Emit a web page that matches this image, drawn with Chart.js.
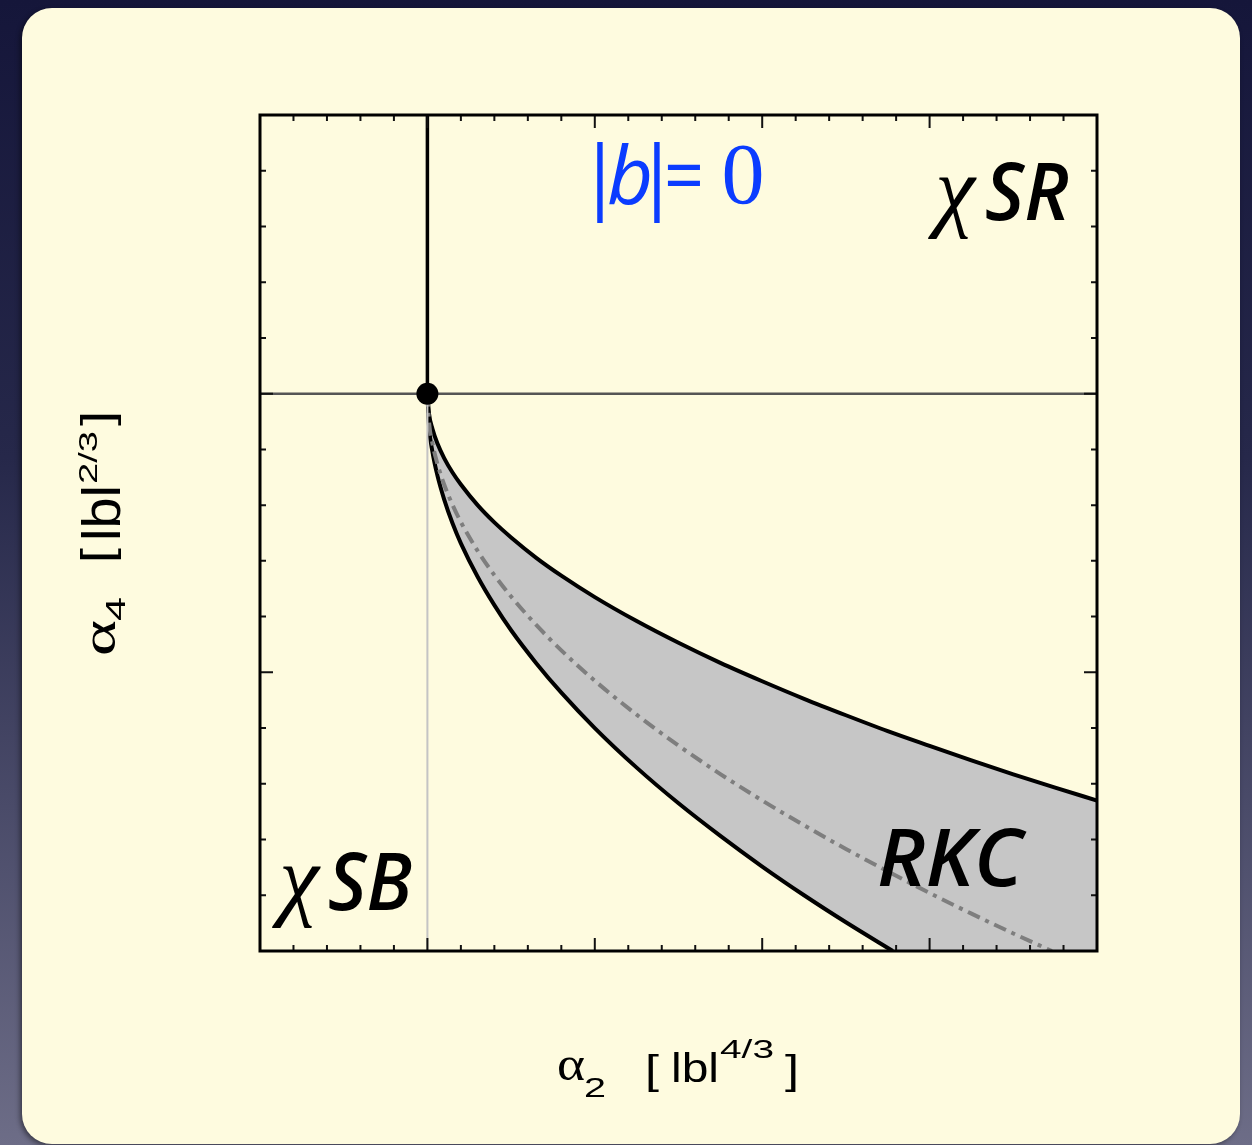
<!DOCTYPE html>
<html>
<head>
<meta charset="utf-8">
<title>Cusp phase diagram |b|=0</title>
<script src="https://cdn.jsdelivr.net/npm/chart.js@4.4.1/dist/chart.umd.min.js"></script>
<style>
    html, body { margin: 0; padding: 0; }
    body {
        width: 1252px; height: 1145px; overflow: hidden; position: relative;
        background: linear-gradient(180deg, #15163a 0%, #26284a 40%, #6d6d87 100%);
    }
    .panel {
        position: absolute; left: 22px; top: 8px; width: 1218px; height: 1136px;
        background: #fefbdf; border-radius: 30px;
        box-shadow: -2px 2px 5px rgba(0, 0, 0, 0.45);
    }
    #phaseChart { position: absolute; left: 0; top: 0; }
</style>
</head>
<body>
<div class="panel"></div>
<canvas id="phaseChart" width="1252" height="1145"></canvas>
<script>
/* ============================================
   Phase diagram: alpha2 vs alpha4 at |b| = 0
   ============================================ */

// axis ranges (units of |b|^{4/3} and |b|^{2/3})
const xRange = [-1, 4];
const yRange = [-2, 1];
const tickStep = 0.2;      // minor tick spacing, every 5th is a major tick

// upper boundary of the RKC band
const upperX = [0, 0.01, 0.03, 0.06, 0.1, 0.15, 0.2, 0.3, 0.4, 0.5, 0.65, 0.8, 1, 1.25, 1.5, 1.75, 2, 2.25, 2.5, 2.75, 3, 3.25, 3.5, 3.75, 4];
const upperY = [0, -0.073, -0.126, -0.179, -0.231, -0.283, -0.326, -0.400, -0.462, -0.516, -0.589, -0.653, -0.730, -0.816, -0.894, -0.966, -1.032, -1.095, -1.154, -1.211, -1.264, -1.316, -1.366, -1.414, -1.460];

// lower boundary, leaves the frame at the bottom edge
const lowerX = [0, 0.01, 0.03, 0.06, 0.1, 0.15, 0.2, 0.3, 0.4, 0.5, 0.65, 0.8, 1, 1.25, 1.5, 1.75, 2, 2.25, 2.5, 2.78];
const lowerY = [0, -0.120, -0.208, -0.294, -0.379, -0.465, -0.537, -0.657, -0.759, -0.849, -0.967, -1.073, -1.200, -1.342, -1.470, -1.587, -1.697, -1.800, -1.897, -2.000];

// dash-dot line inside the band
const midX = [0, 0.01, 0.03, 0.06, 0.1, 0.15, 0.2, 0.3, 0.4, 0.5, 0.65, 0.8, 1, 1.25, 1.5, 1.75, 2, 2.25, 2.5, 2.75, 3, 3.25, 3.5, 3.73];
const midY = [0, -0.103, -0.178, -0.252, -0.326, -0.399, -0.461, -0.564, -0.651, -0.728, -0.830, -0.921, -1.030, -1.152, -1.263, -1.365, -1.460, -1.549, -1.634, -1.714, -1.792, -1.866, -1.937, -2.000];

// reference lines and the critical point
const hLineX = [-1, 4];
const hLineY = [0, 0];
const vUpperX = [0, 0];
const vUpperY = [0, 1];
const vLowerX = [0, 0];
const vLowerY = [-2, 0];
const pointX = [0];
const pointY = [0];

const toXY = (xs, ys) => xs.map((x, i) => ({ x, y: ys[i] }));

const PANEL = '#fefbdf';
const BAND = '#c6c6c6';
const SANS = '"Liberation Sans", Arial, sans-serif';
const SERIF = '"Liberation Serif", "Times New Roman", serif';
const LABEL = '"Open Sans", "Noto Sans", sans-serif';

function glyph(ctx, text, font, cx, baseline, color) {
    ctx.font = font;
    ctx.fillStyle = color || '#000';
    ctx.textAlign = 'center';
    ctx.textBaseline = 'alphabetic';
    ctx.fillText(text, cx, baseline);
}

// draw text squeezed/stretched into a given width
function fitText(ctx, text, font, left, baseline, width, color) {
    ctx.font = font;
    ctx.fillStyle = color || '#000';
    ctx.textAlign = 'left';
    ctx.textBaseline = 'alphabetic';
    const w = ctx.measureText(text).width;
    ctx.save();
    ctx.translate(left, baseline);
    ctx.scale(width / w, 1);
    ctx.fillText(text, 0, 0);
    ctx.restore();
}

const frameTicks = {
    id: 'frameTicks',
    afterDatasetsDraw(chart) {
        const { ctx, chartArea: a, scales: { x, y } } = chart;
        ctx.save();
        ctx.strokeStyle = '#111';
        ctx.lineWidth = 2;
        ctx.beginPath();
        const nx = Math.round((xRange[1] - xRange[0]) / tickStep);
        for (let i = 1; i < nx; i++) {
            const px = x.getPixelForValue(xRange[0] + i * tickStep);
            const len = i % 5 === 0 ? 13 : 6;
            ctx.moveTo(px, a.bottom); ctx.lineTo(px, a.bottom - len);
            ctx.moveTo(px, a.top); ctx.lineTo(px, a.top + len);
        }
        const ny = Math.round((yRange[1] - yRange[0]) / tickStep);
        for (let i = 1; i < ny; i++) {
            const py = y.getPixelForValue(yRange[0] + i * tickStep);
            const len = i % 5 === 0 ? 13 : 6;
            ctx.moveTo(a.left, py); ctx.lineTo(a.left + len, py);
            ctx.moveTo(a.right, py); ctx.lineTo(a.right - len, py);
        }
        ctx.stroke();
        ctx.lineWidth = 3;
        ctx.strokeStyle = '#000';
        ctx.strokeRect(a.left, a.top, a.width, a.height);
        ctx.restore();
    }
};

const annotations = {
    id: 'annotations',
    afterDraw(chart) {
        const ctx = chart.ctx;
        ctx.save();

        // |b|=0
        const blue = '#0b3cff';
        glyph(ctx, '|', `400 80px ${LABEL}`, 600, 204, blue);
        glyph(ctx, 'b', `italic 500 80px ${LABEL}`, 630, 204, blue);
        glyph(ctx, '|', `400 80px ${LABEL}`, 657, 204, blue);
        fitText(ctx, '=', `500 80px ${LABEL}`, 664, 204, 40, blue);
        glyph(ctx, '0', `86px ${SERIF}`, 743, 203, blue);

        // region labels
        glyph(ctx, 'χ', `italic 90px ${SERIF}`, 955, 220);
        fitText(ctx, 'SR', `italic 600 80px ${LABEL}`, 985, 220, 84);
        glyph(ctx, 'χ', `italic 90px ${SERIF}`, 299, 909);
        fitText(ctx, 'SB', `italic 600 80px ${LABEL}`, 328, 910, 84);
        fitText(ctx, 'RKC', `italic 600 80px ${LABEL}`, 877, 886, 146);

        // x axis title: alpha_2 [ |b|^{4/3} ]
        fitText(ctx, 'α', `48px ${SERIF}`, 557, 1080, 28);
        fitText(ctx, '2', `28px ${SANS}`, 584, 1097, 22);
        fitText(ctx, '[', `40px ${SANS}`, 645, 1084, 14);
        fitText(ctx, 'lbl', `40px ${SANS}`, 671, 1082, 48);
        fitText(ctx, '4/3', `25px ${SANS}`, 720, 1058, 54);
        fitText(ctx, ']', `40px ${SANS}`, 785, 1084, 14);

        // y axis title, rotated: alpha_4 [ |b|^{2/3} ]
        ctx.rotate(-Math.PI / 2);
        // rotated frame: (u, v) -> screen (v, -u)
        fitText(ctx, 'α', `48px ${SERIF}`, -656, 115, 36);
        fitText(ctx, '4', `28px ${SANS}`, -621, 125, 24);
        fitText(ctx, '[', `44px ${SANS}`, -563, 112, 15);
        fitText(ctx, 'lbl', `54px ${SANS}`, -541, 120, 56);
        fitText(ctx, '2/3', `26px ${SANS}`, -484, 97, 53);
        fitText(ctx, ']', `44px ${SANS}`, -426, 112, 15);

        ctx.restore();
    }
};

const ctx = document.getElementById('phaseChart').getContext('2d');

// datasets are painted from the last one to the first one
new Chart(ctx, {
    type: 'scatter',
    data: {
        datasets: [
            {   // critical point
                data: toXY(pointX, pointY),
                pointRadius: 11,
                pointBackgroundColor: '#000',
                pointBorderWidth: 0,
                showLine: false,
                clip: false,
            },
            {
                data: toXY(vUpperX, vUpperY),
                showLine: true,
                borderColor: '#000',
                borderWidth: 3.5,
                pointRadius: 0,
            },
            {
                data: toXY(hLineX, hLineY),
                showLine: true,
                borderColor: '#555',
                borderWidth: 2.5,
                pointRadius: 0,
            },
            {
                data: toXY(vLowerX, vLowerY),
                showLine: true,
                borderColor: '#c4c4c4',
                borderWidth: 2,
                pointRadius: 0,
            },
            {
                data: toXY(midX, midY),
                showLine: true,
                borderColor: '#7e7e7e',
                borderWidth: 4,
                borderDash: [13, 6, 4, 6],
                pointRadius: 0,
                cubicInterpolationMode: 'monotone',
            },
            {   // lower boundary: panel colour below it hides the band
                data: toXY(lowerX, lowerY),
                showLine: true,
                borderColor: '#000',
                borderWidth: 4,
                pointRadius: 0,
                cubicInterpolationMode: 'monotone',
                fill: { value: yRange[0] },
                backgroundColor: PANEL,
            },
            {   // upper boundary: band filled down to the bottom edge
                data: toXY(upperX, upperY),
                showLine: true,
                borderColor: '#000',
                borderWidth: 4,
                pointRadius: 0,
                cubicInterpolationMode: 'monotone',
                fill: { value: yRange[0] },
                backgroundColor: BAND,
            },
        ]
    },
    options: {
        responsive: false,
        animation: false,
        layout: { padding: { left: 260, top: 115, right: 155, bottom: 194 } },
        plugins: {
            legend: { display: false },
            tooltip: { enabled: false },
        },
        scales: {
            x: { type: 'linear', min: xRange[0], max: xRange[1], display: false },
            y: { type: 'linear', min: yRange[0], max: yRange[1], display: false },
        },
    },
    plugins: [frameTicks, annotations]
});
</script>
</body>
</html>
